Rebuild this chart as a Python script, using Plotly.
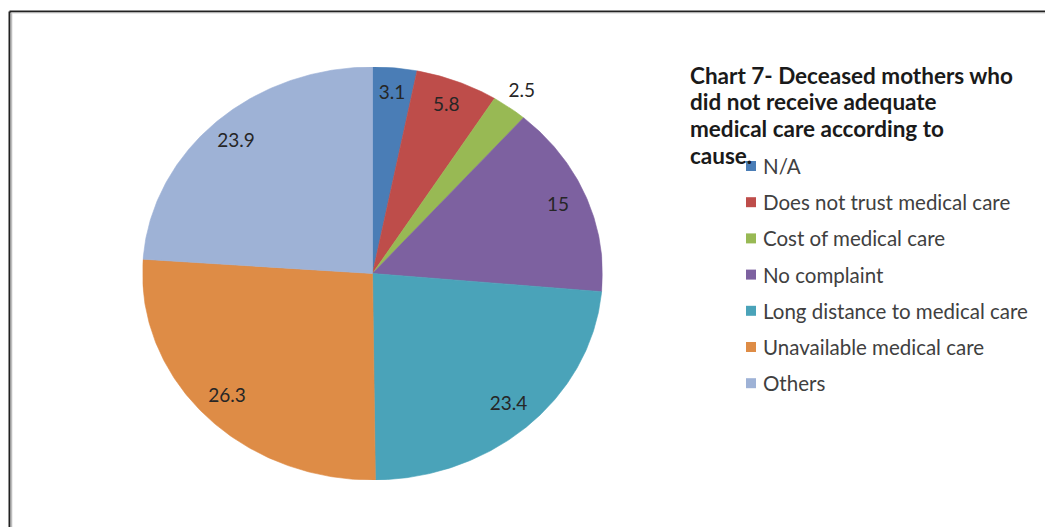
import numpy as np
import plotly.graph_objects as go

# Causes and their shares (%)
causes = [
    "N/A",
    "Does not trust medical care",
    "Cost of medical care",
    "No complaint",
    "Long distance to medical care",
    "Unavailable medical care",
    "Others",
]
shares = [3.1, 5.8, 2.5, 15, 23.4, 26.3, 23.9]
colors = ["#4A7DB6", "#BE4D4A", "#98B954", "#7D61A0", "#4AA3B9", "#DE8C46", "#9EB2D6"]

title_lines = [
    "Chart 7- Deceased mothers who",
    "did not receive adequate",
    "medical care according to",
    "cause.",
]

W, H = 1045, 527
FONT = "Lato, Carlito, Calibri, sans-serif"

fig = go.Figure()

# Pie drawn on a unit circle; the axis domains stretch it to the oval footprint
total = float(sum(shares))
cum = 0.0
lab_x, lab_y, lab_t = [], [], []
for name, v, c in zip(causes, shares, colors):
    a0 = 2 * np.pi * cum / total
    a1 = 2 * np.pi * (cum + v) / total
    t = np.linspace(a0, a1, max(8, int(v * 6)))
    xs = np.concatenate([[0.0], np.sin(t), [0.0]])
    ys = np.concatenate([[0.0], np.cos(t), [0.0]])
    fig.add_trace(go.Scatter(
        x=xs, y=ys, mode="lines", fill="toself", fillcolor=c,
        line=dict(color=c, width=0.6), hoverinfo="text", text=name,
        showlegend=False,
    ))
    mid = (a0 + a1) / 2
    r = 1.09 if v < 3 else 0.87
    lab_x.append(r * np.sin(mid))
    lab_y.append(r * np.cos(mid))
    lab_t.append(f"{v:g}")
    cum += v

fig.add_trace(go.Scatter(
    x=lab_x, y=lab_y, mode="text", text=lab_t,
    textfont=dict(family=FONT, size=19, color="#262626"),
    hoverinfo="skip", showlegend=False,
))

# Title block beside the pie, one annotation per line
for i, line in enumerate(title_lines):
    fig.add_annotation(
        xref="paper", yref="paper", x=688 / W, y=1 - (75 + i * 26.7) / H,
        xanchor="left", yanchor="middle", align="left", showarrow=False,
        text="<b>" + line + "</b>",
        font=dict(family=FONT, size=22.5, color="#1a1a1a"),
    )

# Legend entries: square swatch + label
row0, step = 166, 36.2
for i, (name, c) in enumerate(zip(causes, colors)):
    yc = row0 + i * step
    fig.add_shape(
        type="rect", xref="paper", yref="paper",
        x0=746 / W, x1=756 / W, y0=1 - (yc + 5) / H, y1=1 - (yc - 5) / H,
        fillcolor=c, line=dict(width=0),
    )
    fig.add_annotation(
        xref="paper", yref="paper", x=761 / W, y=1 - yc / H,
        xanchor="left", yanchor="middle", showarrow=False, text=name,
        font=dict(family=FONT, size=20.5, color="#404040"),
    )

# Outer frame (top and left edges visible)
fig.add_shape(type="line", xref="paper", yref="paper",
              x0=9.5 / W, x1=1.02, y0=1 - 11.5 / H, y1=1 - 11.5 / H,
              line=dict(color="#222222", width=2))
fig.add_shape(type="line", xref="paper", yref="paper",
              x0=9.5 / W, x1=9.5 / W, y0=1 - 11.5 / H, y1=-0.02,
              line=dict(color="#222222", width=2))
fig.add_shape(type="line", xref="paper", yref="paper",
              x0=11.5 / W, x1=11.5 / W, y0=1 - 13 / H, y1=-0.02,
              line=dict(color="#bdbdbd", width=1.5))
fig.add_shape(type="line", xref="paper", yref="paper",
              x0=11.5 / W, x1=1.02, y0=1 - 13 / H, y1=1 - 13 / H,
              line=dict(color="#d5d5d5", width=1))

axis_common = dict(showgrid=False, zeroline=False, showticklabels=False,
                   ticks="", showline=False, fixedrange=True)
fig.update_layout(
    width=W, height=H,
    margin=dict(l=0, r=0, t=0, b=0),
    paper_bgcolor="white", plot_bgcolor="white",
    xaxis=dict(domain=[142.5 / W, 602.5 / W], range=[-1, 1], **axis_common),
    yaxis=dict(domain=[(H - 480) / H, (H - 67) / H], range=[-1, 1], **axis_common),
    showlegend=False,
)

fig.write_html("out.html")
